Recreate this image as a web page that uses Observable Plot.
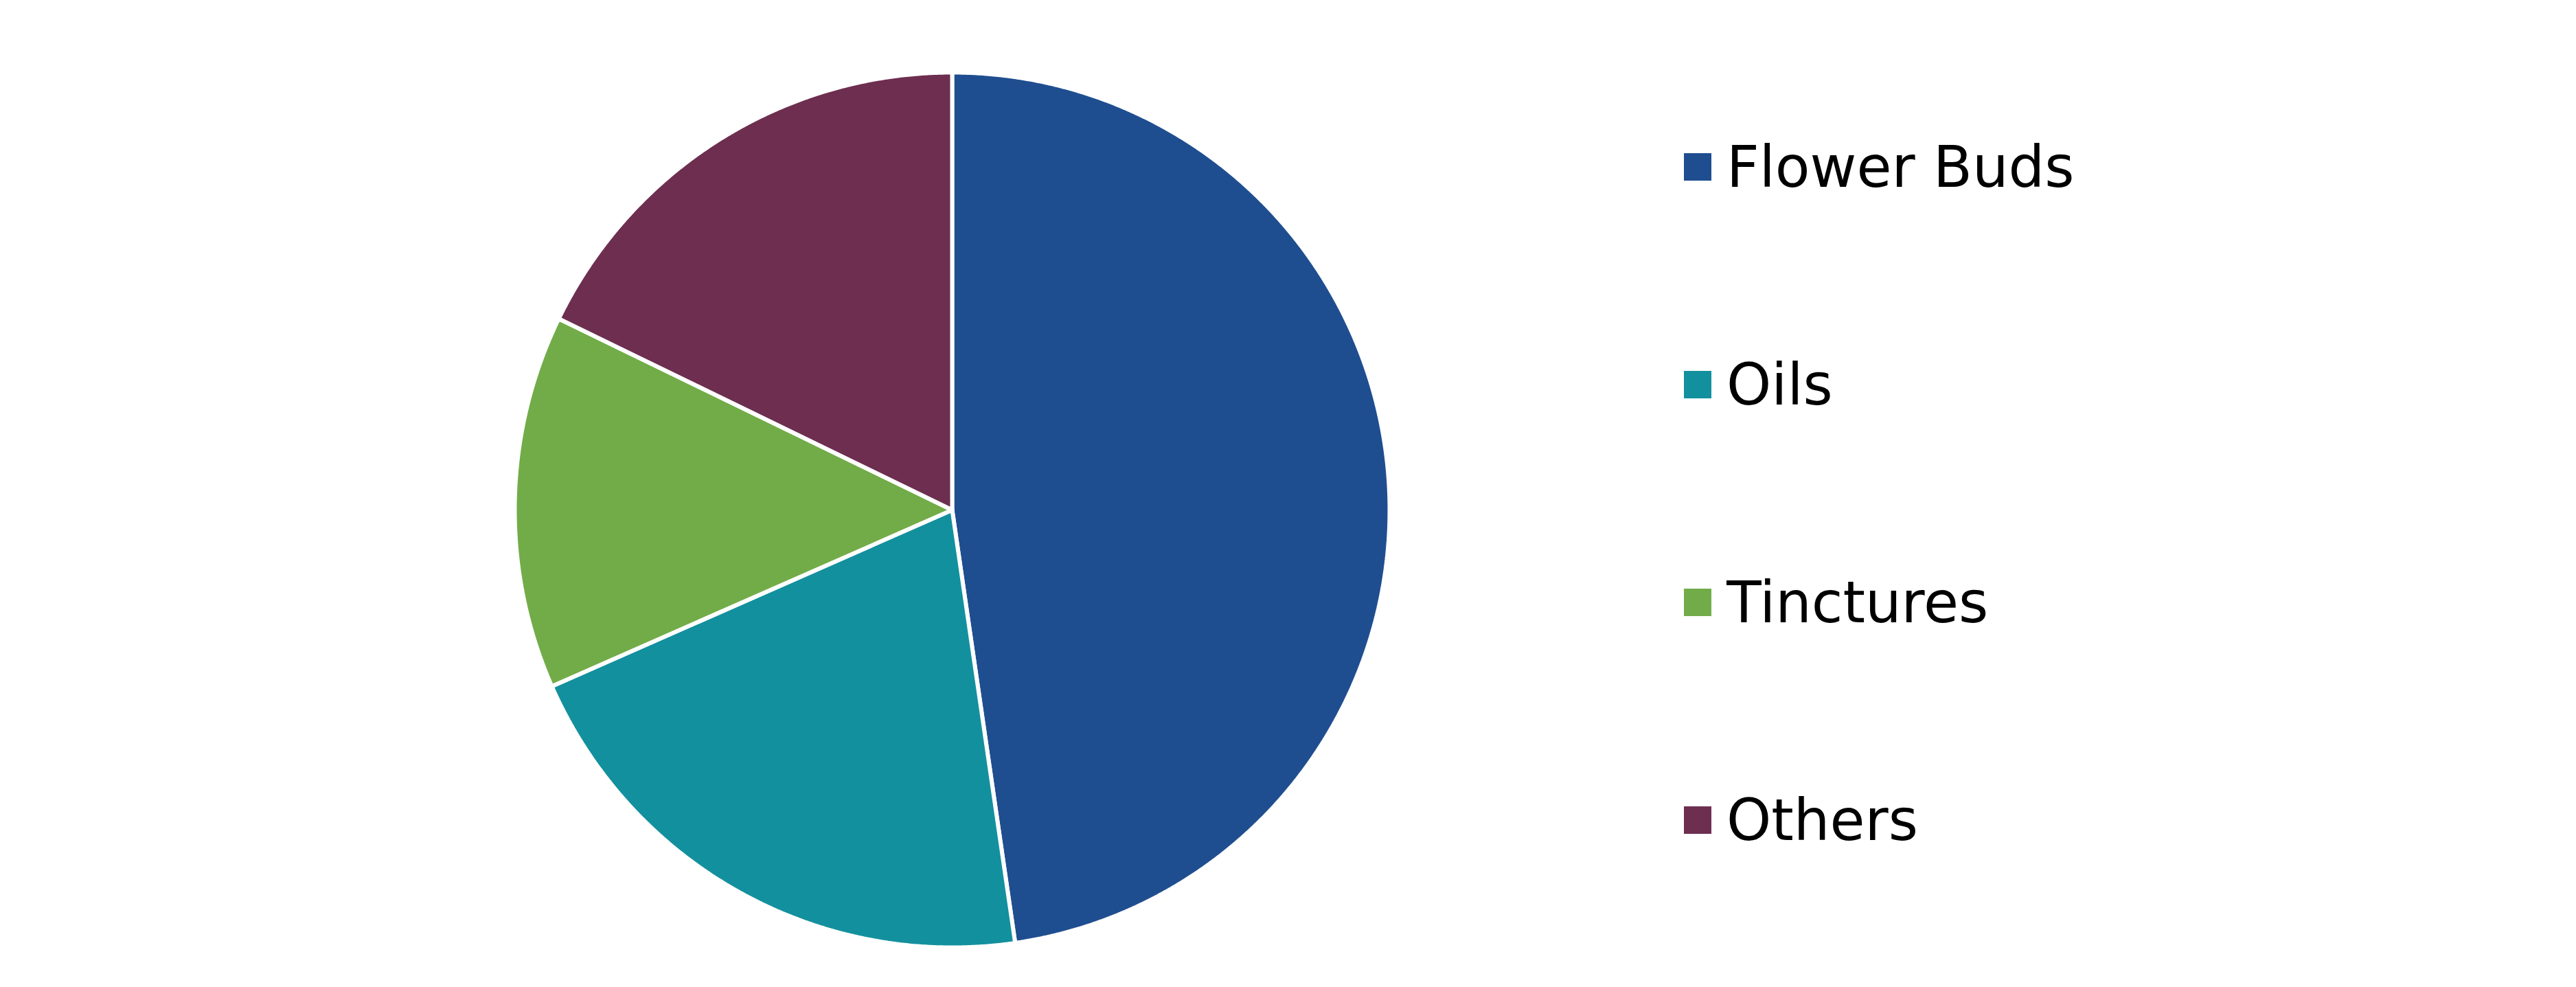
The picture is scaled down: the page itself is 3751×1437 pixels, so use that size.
<!DOCTYPE html>
<html><head><meta charset="utf-8">
<script src="https://cdn.jsdelivr.net/npm/d3@7"></script>
<script src="https://cdn.jsdelivr.net/npm/@observablehq/plot@0.6"></script>
<style>
html,body{margin:0;padding:0;background:#fff;}
#wrap{position:relative;width:3751px;height:1437px;overflow:hidden;}
#chart{position:absolute;left:0;top:0;}
#legend{position:absolute;left:2452px;top:84.5px;}
.lg-swatches{font-family:"DejaVu Sans";font-size:83px;color:#000;margin:0;}
.lg-swatch{height:317px;display:flex;align-items:center;padding:0;}
.lg-swatch > svg{margin-right:22px;}
</style>
</head><body><div id="wrap"><div id="chart"></div><div id="legend"></div></div>
<script>
const categories = ["Flower Buds", "Oils", "Tinctures", "Others"];
const shares = [47.7, 20.7, 13.8, 17.8];
const colors = ["#1f4e90", "#13909e", "#72ac48", "#6d2e50"];

const arcs = d3.pie().sort(null).value((d, i) => shares[i])(categories);
const rows = [];
arcs.forEach(a => {
  const cat = a.data;
  rows.push({cat, ux: 0, uy: 0});
  const n = Math.max(2, Math.ceil((a.endAngle - a.startAngle) / (Math.PI / 720)));
  for (let k = 0; k <= n; k++) {
    const t = a.startAngle + (a.endAngle - a.startAngle) * k / n;
    rows.push({cat, ux: Math.sin(t), uy: -Math.cos(t)});
  }
  rows.push({cat, ux: 0, uy: 0});
});

const cx = 1386, cy = 742, R = 637;
const chart = Plot.plot({
  width: 3751,
  height: 1437,
  margin: 0,
  x: {axis: null, domain: [-1, 1], range: [cx - R, cx + R]},
  y: {axis: null, domain: [-1, 1], range: [cy - R, cy + R]},
  color: {domain: categories, range: colors},
  marks: [
    Plot.line(rows, {x: "ux", y: "uy", z: "cat", fill: "cat", stroke: "#fff", strokeWidth: 6, strokeLinejoin: "miter", strokeOpacity: 1, curve: "linear"})
  ]
});
document.getElementById("chart").appendChild(chart);

const legend = Plot.legend({
  color: {domain: categories, range: colors},
  legend: "swatches",
  swatchSize: 40,
  columns: 1,
  className: "lg"
});
document.getElementById("legend").appendChild(legend);
</script>
</body></html>
